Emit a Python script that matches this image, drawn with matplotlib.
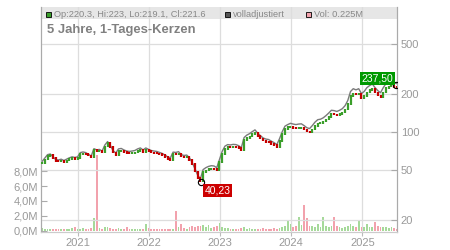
import matplotlib
matplotlib.use("Agg")
import matplotlib.pyplot as plt
import matplotlib.dates as mdates
from matplotlib.patches import Rectangle
from matplotlib.ticker import FixedLocator, NullLocator
import pandas as pd

plt.rcParams['font.family'] = ['Liberation Sans', 'DejaVu Sans']

# biweekly closes, Jul 2020 - Jun 2025
dates = pd.date_range('2020-07-03', periods=131, freq='14D')

close = [57, 60.6, 64.6, 65.4, 62, 59, 58.6, 59.4, 58, 59.5,
         61, 62, 61.4, 62, 67, 67.8, 67, 65, 63, 72,
         70.4, 71, 69, 77, 82, 76.5, 68.7, 66, 71, 71.6,
         69.7, 68.3, 67.8, 68.3, 69, 71, 72.3, 69.7, 72.3, 70.4,
         69, 68.3, 67.8, 66.6, 65.4, 63.6, 61.4, 60.3, 67, 66.6,
         67.5, 63.9, 63, 63.5, 60.3, 55.5, 48.8, 43.4, 40.7, 48,
         49.7, 50.9, 51.5, 51.2, 49.7, 57.6, 67, 73.6, 75.7, 75.2,
         76, 75.7, 74.3, 71.6, 86, 90, 92.4, 95.9, 99, 93.3,
         89, 85.4, 83.7, 83, 80.6, 78.5, 75.7, 84.4, 95.9, 106,
         109, 109.5, 108, 107, 108, 108.5, 105, 101, 99.5, 105,
         112, 117, 118, 121, 126, 132, 139, 138, 136, 139,
         143, 151, 166, 192, 202, 198, 202, 185, 192, 206,
         214, 220, 206, 195, 188, 206, 222, 230, 232, 226, 221.6]

# "volladjustiert" line
adj_close = [58.4, 62.1, 66.2, 67, 63.6, 60.5, 60.1, 60.9, 59.5, 61,
             62.5, 63.6, 62.9, 63.6, 68.7, 69.5, 68.7, 66.6, 64.6, 73.8,
             72.2, 72.8, 70.7, 78.9, 84, 78.4, 71.1, 68.3, 73.5, 74.1,
             72.1, 70.7, 70.2, 70.7, 71.4, 73.5, 74.8, 72.1, 74.8, 72.9,
             71.4, 70.7, 70.2, 68.9, 67.7, 65.8, 63.6, 62.4, 69.3, 68.9,
             69.9, 66.1, 65.2, 65.7, 62.4, 57.4, 51.2, 45.6, 42.7, 50.4,
             52.2, 53.4, 54.1, 53.8, 52.2, 60.5, 70.4, 77.3, 79.5, 79,
             79.8, 79.5, 78, 75.2, 90.3, 94.5, 97, 100.7, 104, 98,
             93.5, 89.7, 87.9, 87.2, 84.6, 82.4, 79.5, 88.6, 100.7, 111.3,
             114.5, 117.2, 115.6, 114.5, 115.6, 116.1, 112.4, 108.1, 106.5, 112.4,
             119.8, 125.2, 126.3, 129.5, 134.8, 141.2, 148.7, 147.7, 145.5, 148.7,
             153, 161.6, 177.6, 209.3, 220.2, 215.8, 220.2, 201.7, 209.3, 224.5,
             233.3, 239.8, 224.5, 212.6, 204.9, 224.5, 242, 250.7, 252.9, 246.3, 241.5]

# volume in millions
volume = [0.35, 0.25, 0.3, 0.2, 0.25, 0.3, 0.2, 0.25, 0.3, 0.2,
          0.25, 0.35, 0.45, 0.25, 0.3, 0.4, 0.25, 0.3, 0.35, 1.7,
          10.1, 0.4, 0.3, 0.55, 0.5, 0.35, 0.3, 0.25, 0.4, 0.3,
          0.25, 0.5, 0.3, 0.25, 0.2, 0.3, 0.25, 0.3, 0.9, 0.35,
          0.25, 0.2, 0.3, 0.25, 0.2, 0.3, 0.25, 0.2, 0.3, 2.6,
          0.5, 0.9, 0.4, 0.3, 0.5, 0.6, 0.55, 0.6, 0.7, 0.8,
          0.5, 0.8, 0.4, 0.45, 0.6, 1.0, 0.5, 0.4, 0.35, 0.3,
          0.3, 0.25, 0.3, 0.4, 0.45, 0.3, 0.35, 0.3, 0.25, 0.3,
          0.3, 0.35, 0.3, 0.25, 0.3, 0.35, 0.3, 0.4, 0.5, 0.6,
          1.5, 0.9, 0.5, 0.6, 1.8, 0.8, 3.4, 1.7, 0.7, 0.6,
          0.5, 0.9, 0.5, 1.8, 0.6, 0.5, 0.7, 1.8, 0.6, 0.5,
          0.4, 0.5, 0.7, 0.9, 0.6, 0.5, 1.35, 0.5, 0.45, 0.9,
          0.5, 0.45, 1.2, 0.6, 0.5, 0.55, 0.45, 0.4, 0.5, 0.35, 0.225]

low_date, low_val, low_txt = '2022-09-26', 40.23, '40,23'
high_date, high_val, high_txt = '2025-06-24', 237.50, '237,50'

price_ticks = [20, 50, 100, 200, 500]
vol_ticks = [0, 2, 4, 6, 8]
vol_labels = ['0,0M', '2,0M', '4,0M', '6,0M', '8,0M']
years = ['2021', '2022', '2023', '2024', '2025']

UP = '#3a9e2a'
DOWN = '#c40000'
GRID = '#dddddd'
TXT = '#999999'

W, H = 450, 250
def fx(x): return x / W
def fy(y): return 1 - y / H

fig = plt.figure(figsize=(4.5, 2.5), dpi=100)
left, right, top, bottom = 41.3, 397.3, 7, 231.5
ax = fig.add_axes([fx(left), fy(bottom), fx(right - left), (bottom - top) / H])
axp = ax.twinx()

# volume (left axis)
opens = [close[0]] + close[:-1]
up = [c >= o for o, c in zip(opens, close)]
ax.bar(dates, volume, width=9, color=['#a6d99a' if u else '#f2a2ad' for u in up],
       linewidth=0, zorder=2)
ax.set_ylim(-0.1, 30)
ax.yaxis.set_major_locator(FixedLocator(vol_ticks))
ax.set_yticklabels(vol_labels)
ax.set_xlim(pd.Timestamp('2020-06-29'), pd.Timestamp('2025-06-29'))
ax.set_xticks([pd.Timestamp(y + '-01-01') for y in years])
ax.set_xticklabels(years)
ax.grid(axis='x', color=GRID, lw=0.9)
ax.set_axisbelow(True)
ax.tick_params(axis='y', direction='in', length=4, width=0.8, color='#aaaaaa',
               labelsize=8, labelcolor=TXT, pad=2.5)
ax.tick_params(axis='x', direction='out', length=3, width=0.8, color='#bbbbbb',
               labelsize=8, labelcolor=TXT, pad=1.5)

# header band
ax.add_patch(Rectangle((0, 1 - (18.8 - top) / (bottom - top)), 1, (18.8 - top) / (bottom - top),
                       transform=ax.transAxes, color='#e6e6e6', lw=0, zorder=0))

# price (right axis, log)
axp.set_yscale('log')
axp.set_ylim(16.3, 977)
axp.yaxis.set_major_locator(FixedLocator(price_ticks))
axp.yaxis.set_minor_locator(NullLocator())
axp.set_yticklabels([str(t) for t in price_ticks])
axp.grid(axis='y', color=GRID, lw=0.9, zorder=0)
axp.tick_params(axis='y', direction='in', length=4, width=0.8, color='#aaaaaa',
                labelsize=8, labelcolor=TXT, pad=2.5)

axp.plot(dates, adj_close, color='#7a7a7a', lw=1.0, zorder=2)
lo = [min(o, c) / 1.015 for o, c in zip(opens, close)]
hi = [max(o, c) * 1.015 for o, c in zip(opens, close)]
axp.vlines(dates, lo, hi, colors=[UP if u else DOWN for u in up], lw=1.6, zorder=3)

# extremes
for d, v, t, col, off in [(low_date, low_val, low_txt, '#cc0000', (12, -6)),
                          (high_date, high_val, high_txt, '#009900', (-13.5, 4.3))]:
    axp.plot(pd.Timestamp(d), v, 'o', ms=4.5, mfc='none', mec='black', mew=0.8, zorder=5)
    axp.annotate(t, (pd.Timestamp(d), v), xytext=off, textcoords='offset points',
                 ha='center', va='center', color='white', fontsize=7.5, zorder=6,
                 bbox=dict(boxstyle='square,pad=0.15', fc=col, ec='none'))

for a in (ax, axp):
    a.spines['top'].set_visible(False)
    a.spines['left'].set_color('#aaaaaa')
    a.spines['right'].set_color('#aaaaaa')
    a.spines['bottom'].set_color('#cccccc')

# legend in header band
legend = [(46, UP, 'Op:220.3, Hi:223, Lo:219.1, Cl:221.6'),
          (225, '#555555', 'volladjustiert'),
          (306, '#f2a2ad', 'Vol: 0.225M')]
for x, c, t in legend:
    fig.patches.append(Rectangle((fx(x), fy(17.2)), 5 / W, 5 / H, transform=fig.transFigure,
                                 fc=c, ec='black', lw=0.6, zorder=5))
    fig.text(fx(x + 8), fy(14.8), t, fontsize=6.7, color='#888888', va='center')

fig.text(fx(47), fy(29.5), '5 Jahre, 1-Tages-Kerzen', fontsize=9.4, fontweight='bold',
         color='#808080', va='center')

fig.savefig('out.png', dpi=100)
